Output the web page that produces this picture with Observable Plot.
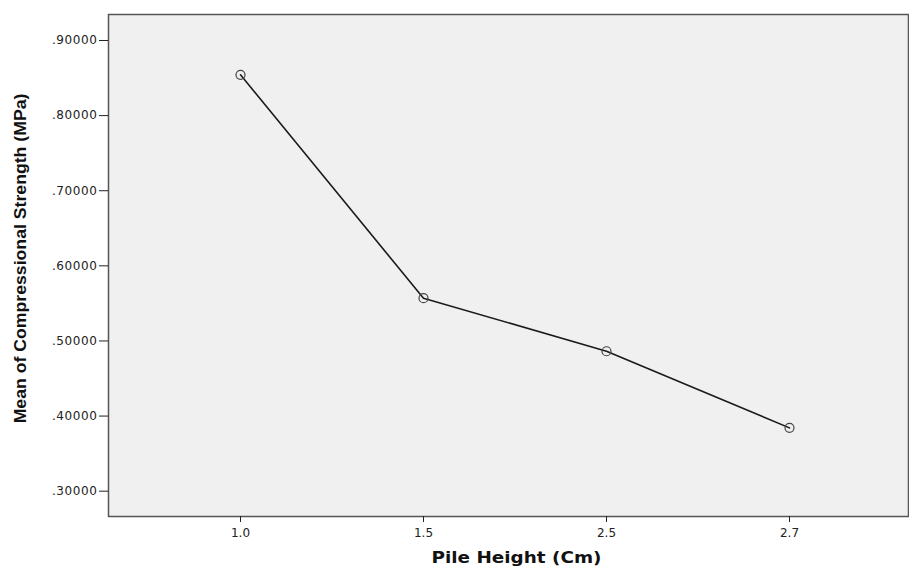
<!DOCTYPE html>
<html>
<head>
<meta charset="utf-8">
<script src="https://cdn.jsdelivr.net/npm/d3@7"></script>
<script src="https://cdn.jsdelivr.net/npm/@observablehq/plot@0.6"></script>
<style>
  html, body { margin: 0; padding: 0; background: white; }
</style>
</head>
<body>
<div id="chart"></div>
<script>
const pileHeights = ["1.0", "1.5", "2.5", "2.7"];
const meanStrength = [0.8543, 0.5569, 0.4863, 0.3843];
const yTicks = [0.3, 0.4, 0.5, 0.6, 0.7, 0.8, 0.9];
const xLabel = "Pile Height (Cm)";
const yLabel = "Mean of Compressional Strength (MPa)";

const data = pileHeights.map((h, i) => ({h, v: meanStrength[i]}));

const chart = Plot.plot({
  width: 909,
  height: 568,
  marginLeft: 108,
  marginRight: 1,
  marginTop: 14,
  marginBottom: 52,
  style: {fontFamily: "DejaVu Sans, Liberation Sans, sans-serif", fontSize: "12px", color: "#222", background: "white", overflow: "visible"},
  x: {type: "point", domain: pileHeights, range: [240, 789], padding: 0},
  y: {domain: [0.2663, 0.9346]},
  marks: [
    Plot.frame({fill: "#f0f0f0"}),
    Plot.frame({stroke: "#555", strokeWidth: 1.5}),
    Plot.axisY({ticks: yTicks, tickFormat: d => d.toFixed(5).replace(/^0/, ""), tickSize: 9, tickPadding: 2, label: null}),
    Plot.axisX({tickSize: 6, tickPadding: 6, label: null}),
    Plot.line(data, {x: "h", y: "v", stroke: "#1a1a1a", strokeWidth: 1.6}),
    Plot.dot(data, {x: "h", y: "v", r: 4.5, stroke: "#444", strokeWidth: 1.2, fill: "none"}),
    Plot.text([xLabel], {frameAnchor: "bottom", dy: 46, dx: 8, fontWeight: "bold", fontSize: 15, fill: "#111", className: "xlab"}),
    Plot.text([yLabel], {frameAnchor: "left", textAnchor: "middle", rotate: -90, dx: -88, dy: -7, fontWeight: "bold", fontSize: 17, fill: "#111", className: "ylab",
      fontFamily: "Liberation Sans, Arial, sans-serif"})
  ]
});
document.getElementById("chart").appendChild(chart);

// compress the y label horizontally (narrow bold look) to about 330px
d3.select(chart).selectAll(".ylab text").each(function() {
  const len = this.getComputedTextLength();
  const sx = len > 0 ? 330 / len : 1;
  const t = this.getAttribute("transform") || "";
  this.setAttribute("transform", t + ` scale(${sx},1)`);
});
d3.select(chart).selectAll(".xlab text").attr("textLength", 170).attr("lengthAdjust", "spacingAndGlyphs");
d3.select(chart).selectAll("[aria-label='y-axis tick label']").style("letter-spacing", "0.6px");
</script>
</body>
</html>
